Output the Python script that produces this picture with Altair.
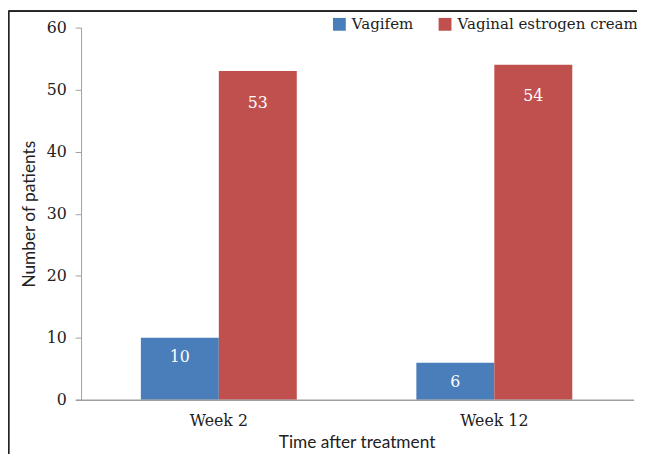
import altair as alt
import pandas as pd

categories = ["Week 2", "Week 12"]
series = ["Vagifem", "Vaginal estrogen cream"]
vagifem = [10, 6]
cream = [53, 54]
colors = ["#4A7EBB", "#C0504D"]

rows = []
for i, c in enumerate(categories):
    rows.append({"week": c, "group": series[0], "value": vagifem[i]})
    rows.append({"week": c, "group": series[1], "value": cream[i]})
df = pd.DataFrame(rows)

SERIF = "DejaVu Serif"
SANS = "Lato"

base = alt.Chart(df).encode(
    x=alt.X("week:N", sort=categories,
            scale=alt.Scale(paddingInner=0.434, paddingOuter=0.217),
            axis=alt.Axis(title="Time after treatment", labelAngle=0, ticks=False, domain=False,
                          labelFont=SERIF, labelFontSize=16, labelColor="#222",
                          titleFont=SANS, titleFontSize=17.5, titleFontWeight="normal",
                          titleColor="#222", labelPadding=13, titlePadding=5)),
    xOffset=alt.XOffset("group:N", sort=series),
)

bars = base.mark_bar().encode(
    y=alt.Y("value:Q", scale=alt.Scale(domain=[0, 60]),
            axis=alt.Axis(title="Number of patients", values=[0, 10, 20, 30, 40, 50, 60],
                          grid=False, tickSize=6, tickColor="#A0A0A0", domainColor="#A0A0A0",
                          labelFont=SERIF, labelFontSize=16, labelColor="#222", labelPadding=9,
                          titleFont=SANS, titleFontSize=17.5, titleFontWeight="normal",
                          titleColor="#222", titlePadding=8)),
    color=alt.Color("group:N", sort=series,
                    scale=alt.Scale(domain=series, range=colors),
                    legend=alt.Legend(title=None, orient="none", legendX=254, legendY=-11,
                                      direction="horizontal", symbolType="square",
                                      symbolSize=169, symbolStrokeWidth=0, symbolOpacity=1,
                                      labelFont=SERIF, labelFontSize=15.2, labelColor="#222",
                                      labelLimit=400, labelOffset=5, columnPadding=24,
                                      padding=0)),
)

labels_big = base.mark_text(baseline="middle", dy=32, color="white", font=SERIF, fontSize=16).encode(
    y=alt.Y("value:Q"),
    text=alt.Text("value:Q"),
).transform_filter("datum.value > 20")

labels_small = base.mark_text(baseline="middle", dy=20, color="white", font=SERIF, fontSize=16).encode(
    y=alt.Y("value:Q"),
    text=alt.Text("value:Q"),
).transform_filter("datum.value <= 20")

x_axis_line = alt.Chart(df).mark_rule(color="#A0A0A0", strokeWidth=1).encode(
    x=alt.value(-5), x2=alt.value(560), y=alt.value(377.5)
)

frame_top = alt.Chart(df).mark_rule(color="#222", strokeWidth=1.5).encode(
    x=alt.value(-73), x2=alt.value(640), y=alt.value(-16.5)
)
frame_left = alt.Chart(df).mark_rule(color="#222", strokeWidth=1.5).encode(
    x=alt.value(-73.5), y=alt.value(-17), y2=alt.value(440)
)

chart = alt.layer(bars, labels_big, labels_small, x_axis_line, frame_top, frame_left).properties(
    width=558, height=377,
    autosize=alt.AutoSizeParams(type="none"),
    padding={"left": 74, "top": 17, "right": 5, "bottom": 52},
).configure_view(stroke=None)

chart.save("out.html", embed_options={"renderer": "svg", "actions": False})
